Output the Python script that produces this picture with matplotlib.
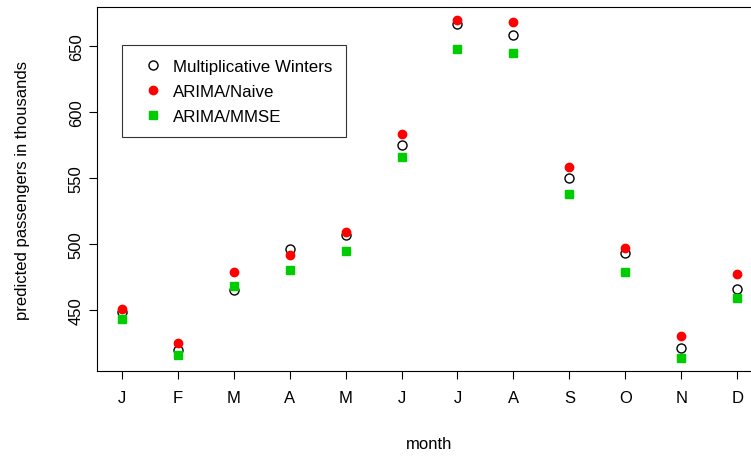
import matplotlib
matplotlib.use("Agg")
import matplotlib.pyplot as plt

months = ["J", "F", "M", "A", "M", "J", "J", "A", "S", "O", "N", "D"]
winters = [448.5, 420, 465, 496, 507, 575, 667, 658, 550, 493, 421, 466]
naive = [451, 425, 479, 492, 509, 583, 670, 668, 558, 497, 430, 477]
mmse = [443, 416, 468, 480, 495, 566, 648, 645, 538, 479, 414, 459]

plt.rcParams["font.family"] = ["Liberation Sans", "DejaVu Sans"]
plt.rcParams["font.size"] = 12

fig = plt.figure(figsize=(7.51, 4.64), dpi=100)
ax = fig.add_axes([97 / 751, 92 / 464, 665 / 751, 364 / 464])
x = list(range(1, 13))
ax.plot(x, winters, "o", mfc="white", mec="black", ms=6.5, mew=1, label="Multiplicative Winters")
ax.plot(x, naive, "o", color="#ff0000", ms=6, label="ARIMA/Naive")
ax.plot(x, mmse, "s", color="#00cd00", ms=6, label="ARIMA/MMSE")

ax.set_xlim(1 - 11 * 0.04, 12 + 11 * 0.04)
ax.set_ylim(403.8, 679.5)
ax.set_xticks(x)
ax.set_xticklabels(months)
ax.set_yticks([450, 500, 550, 600, 650])
ax.tick_params(axis="y", labelrotation=90, length=6)
ax.tick_params(axis="x", length=6, pad=8)
for lab in ax.get_yticklabels():
    lab.set_va("center")
ax.set_xlabel("month", labelpad=22)
ax.set_ylabel("predicted passengers in thousands", labelpad=28)

leg = ax.legend(loc="upper left", bbox_to_anchor=(25 / 665, 326 / 364), frameon=True,
                fancybox=False, edgecolor="black", borderaxespad=0, handletextpad=0.2,
                labelspacing=0.6, borderpad=0.8, prop={"size": 12.2})
leg.get_frame().set_linewidth(0.8)

fig.savefig("out.png", dpi=100)
